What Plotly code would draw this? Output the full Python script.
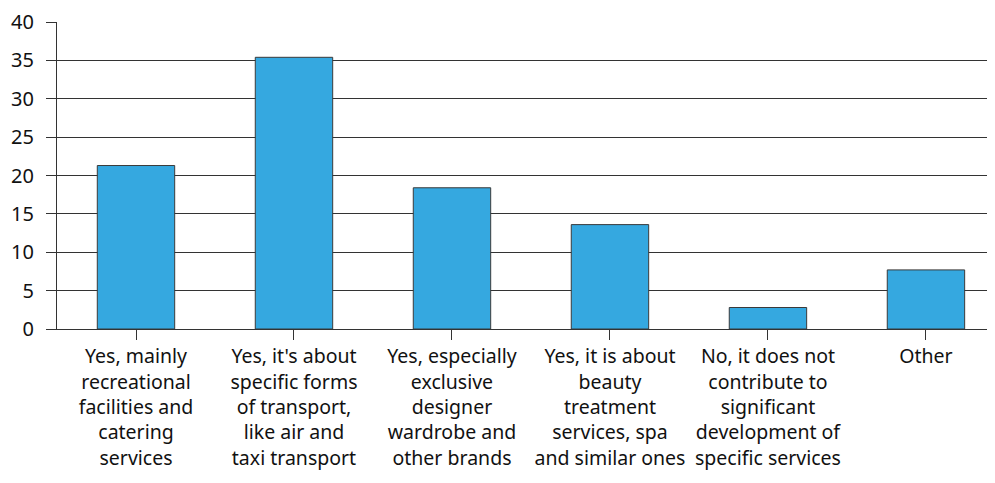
import plotly.graph_objects as go

categories = [
    "Yes, mainly<br>recreational<br>facilities and<br>catering<br>services",
    "Yes, it's about<br>specific forms<br>of transport,<br>like air and<br>taxi transport",
    "Yes, especially<br>exclusive<br>designer<br>wardrobe and<br>other brands",
    "Yes, it is about<br>beauty<br>treatment<br>services, spa<br>and similar ones",
    "No, it does not<br>contribute to<br>significant<br>development of<br>specific services",
    "Other",
]
values = [21.3, 35.4, 18.4, 13.6, 2.8, 7.7]
y_ticks = [0, 5, 10, 15, 20, 25, 30, 35, 40]

fig = go.Figure(go.Bar(
    x=list(range(len(categories))),
    y=values,
    width=0.49,
    marker=dict(color="#35A8E0", line=dict(color="#3a3a3a", width=1)),
))

fig.update_layout(
    width=995, height=483,
    margin=dict(l=49, r=8, t=14, b=162, autoexpand=False),
    paper_bgcolor="white", plot_bgcolor="white",
    font=dict(family="Noto Sans", size=19.5, color="#111"),
    showlegend=False,
)
fig.update_xaxes(
    tickmode="array",
    tickvals=list(range(len(categories))),
    ticktext=categories,
    range=[-0.5, 5.437],
    tickson="boundaries",
    ticks="outside", ticklen=10, tickcolor="#333", tickwidth=1,
    showline=True, linecolor="#333", linewidth=1,
    showgrid=False, zeroline=False,
    tickangle=0,
    tickfont=dict(size=19.5),
    automargin=False,
)
fig.update_yaxes(
    range=[0, 40],
    tickvals=y_ticks,
    ticks="outside", ticklen=10, tickcolor="#333", tickwidth=1,
    showline=True, linecolor="#333", linewidth=1,
    showgrid=True, gridcolor="#333", gridwidth=1,
    zeroline=False,
    tickfont=dict(size=20),
    ticklabelstandoff=8,
    automargin=False,
)

fig.write_html("out.html")
